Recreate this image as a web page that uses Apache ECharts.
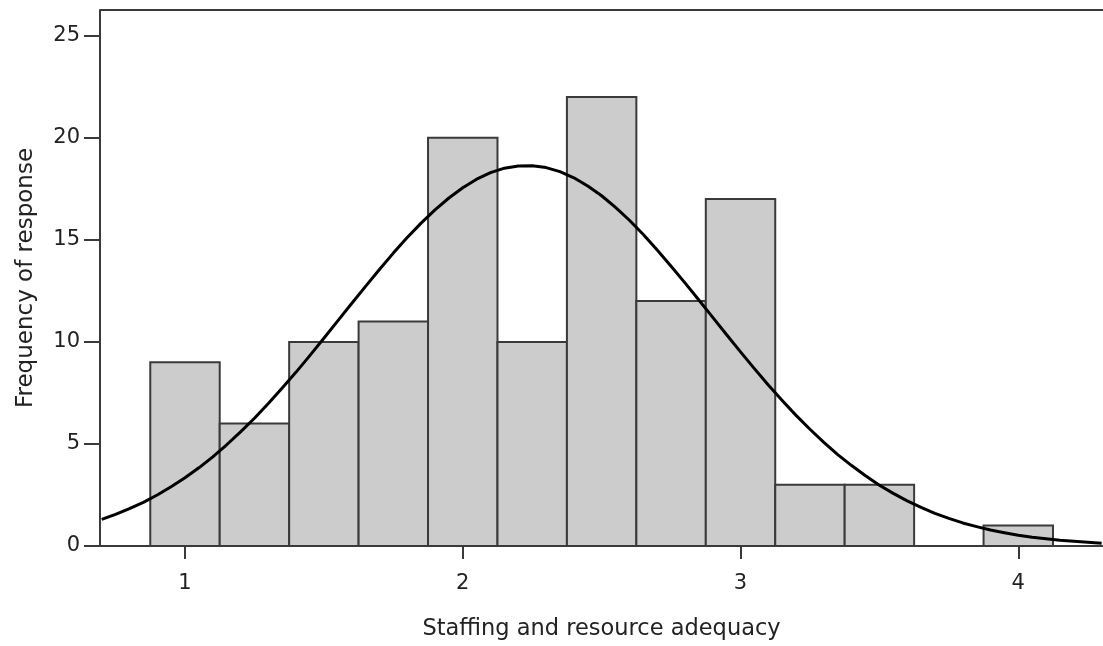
<!DOCTYPE html>
<html>
<head>
<meta charset="utf-8">
<script src="https://cdn.jsdelivr.net/npm/echarts@6/dist/echarts.min.js"></script>
<style>html,body{margin:0;padding:0;background:#fff}#c{width:1103px;height:646px}</style>
</head>
<body>
<div id="c"></div>
<script>
// Histogram bins: [start, end]
const binStarts = [0.875, 1.125, 1.375, 1.625, 1.875, 2.125, 2.375, 2.625, 2.875, 3.125, 3.375, 3.625, 3.875];
const binEnds   = [1.125, 1.375, 1.625, 1.875, 2.125, 2.375, 2.625, 2.875, 3.125, 3.375, 3.625, 3.875, 4.125];
const counts    = [9, 6, 10, 11, 20, 10, 22, 12, 17, 3, 3, 0, 1];

// Normal curve
const curveX = [0.70,0.75,0.80,0.85,0.90,0.95,1.00,1.05,1.10,1.15,1.20,1.25,1.30,1.35,1.40,1.45,1.50,1.55,1.60,1.65,1.70,1.75,1.80,1.85,1.90,1.95,2.00,2.05,2.10,2.15,2.20,2.25,2.30,2.35,2.40,2.45,2.50,2.55,2.60,2.65,2.70,2.75,2.80,2.85,2.90,2.95,3.00,3.05,3.10,3.15,3.20,3.25,3.30,3.35,3.40,3.45,3.50,3.55,3.60,3.65,3.70,3.75,3.80,3.85,3.90,3.95,4.00,4.05,4.10,4.15,4.20,4.25,4.30];
const curveY = [1.30,1.55,1.83,2.14,2.50,2.90,3.34,3.83,4.37,4.96,5.59,6.26,6.98,7.74,8.52,9.34,10.18,11.03,11.88,12.72,13.55,14.35,15.11,15.82,16.47,17.05,17.55,17.97,18.29,18.51,18.62,18.63,18.54,18.34,18.04,17.64,17.16,16.59,15.96,15.26,14.50,13.71,12.89,12.05,11.20,10.35,9.51,8.69,7.89,7.13,6.40,5.72,5.08,4.48,3.94,3.44,2.98,2.58,2.21,1.89,1.60,1.35,1.13,0.95,0.78,0.65,0.53,0.43,0.35,0.28,0.23,0.18,0.14];

const xTicks = [1, 2, 3, 4];
const xTitle = 'Staffing and resource adequacy';
const yTitle = 'Frequency of response';

const FONT = 'DejaVu Sans';
const AXC = '#3a3a3a';
const Y_MAX = 26.26;

const barData = binStarts.map((s, i) => [s, binEnds[i], counts[i]]).filter(d => d[2] > 0);
const lineData = curveX.map((x, i) => [x, curveY[i]]);

const chart = echarts.init(document.getElementById('c'), null, {renderer: 'canvas'});
chart.setOption({
  animation: false,
  backgroundColor: '#fff',
  grid: {left: 100, right: 0, top: 10, bottom: 100, containLabel: false, outerBoundsMode: 'none', show: false},
  xAxis: {
    type: 'value', min: 0.694, max: 4.305,
    axisLine: {show: true, onZero: false, lineStyle: {color: AXC, width: 2}},
    axisTick: {show: true, length: 13, customValues: xTicks, lineStyle: {color: AXC, width: 2}},
    axisLabel: {customValues: xTicks, color: '#222', fontFamily: FONT, fontSize: 21, margin: 27},
    splitLine: {show: false},
    name: xTitle, nameLocation: 'middle', nameGap: 72,
    nameTextStyle: {color: '#222', fontFamily: FONT, fontSize: 22.5}
  },
  yAxis: {
    type: 'value', min: 0, max: Y_MAX, interval: 5,
    axisLine: {show: true, onZero: false, lineStyle: {color: AXC, width: 2}},
    axisTick: {show: true, length: 16, lineStyle: {color: AXC, width: 2}},
    axisLabel: {color: '#222', fontFamily: FONT, fontSize: 21, margin: 20, showMaxLabel: false},
    splitLine: {show: false},
    name: yTitle, nameLocation: 'middle', nameGap: 62, nameRotate: 90,
    nameTextStyle: {color: '#222', fontFamily: FONT, fontSize: 23}
  },
  series: [{
    type: 'custom',
    data: barData,
    renderItem: function (params, api) {
      const p0 = api.coord([api.value(0), api.value(2)]);
      const p1 = api.coord([api.value(1), 0]);
      return {
        type: 'rect',
        shape: {x: p0[0], y: p0[1], width: p1[0] - p0[0], height: p1[1] - p0[1]},
        style: {fill: '#cccccc', stroke: '#3a3a3a', lineWidth: 2}
      };
    },
    encode: {x: [0, 1], y: 2},
    z: 2
  }, {
    type: 'line',
    data: lineData,
    smooth: false,
    showSymbol: false,
    clip: true,
    lineStyle: {color: '#000', width: 3, join: 'round'},
    markLine: {
      silent: true, symbol: 'none', label: {show: false},
      lineStyle: {color: AXC, width: 2, type: 'solid'},
      data: [{yAxis: Y_MAX}]
    },
    z: 3
  }]
});
</script>
</body>
</html>
